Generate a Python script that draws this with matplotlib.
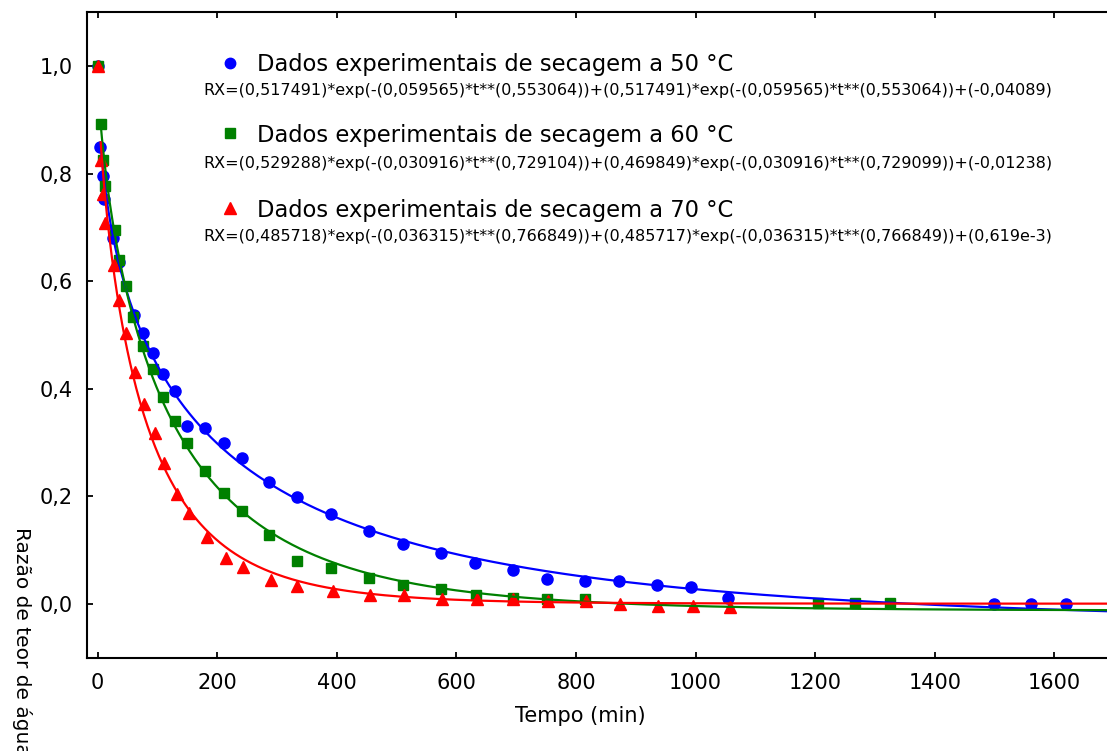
import numpy as np
import matplotlib
matplotlib.use("Agg")
import matplotlib.pyplot as plt
from matplotlib.ticker import FuncFormatter

# Data
t50 = [0, 4, 9, 10, 26, 35, 60, 76, 93, 110, 129, 150, 179, 212, 241, 287, 333,
       391, 454, 511, 574, 631, 694, 752, 815, 872, 935, 992, 1054, 1499, 1561, 1619]
rx50 = [1.0, 0.849, 0.796, 0.752, 0.680, 0.635, 0.538, 0.504, 0.467, 0.428, 0.395,
        0.331, 0.327, 0.300, 0.271, 0.227, 0.199, 0.167, 0.136, 0.112, 0.095, 0.076,
        0.063, 0.047, 0.043, 0.043, 0.035, 0.031, 0.012, 0.0, 0.0, 0.0]

t60 = [0, 5, 9, 13, 29, 35, 47, 59, 75, 93, 110, 130, 150, 179, 212, 241, 287, 333,
       391, 454, 511, 574, 632, 694, 752, 815, 1204, 1266, 1325]
rx60 = [1.0, 0.892, 0.825, 0.777, 0.696, 0.639, 0.592, 0.533, 0.480, 0.436, 0.384,
        0.340, 0.300, 0.248, 0.207, 0.172, 0.128, 0.079, 0.067, 0.048, 0.035, 0.027,
        0.016, 0.012, 0.009, 0.009, 0.001, 0.001, 0.001]

t70 = [0, 5, 9, 13, 28, 36, 48, 62, 78, 95, 111, 132, 153, 182, 214, 243, 289, 334,
       393, 455, 513, 575, 634, 695, 753, 816, 873, 937, 995, 1057]
rx70 = [1.0, 0.825, 0.763, 0.709, 0.630, 0.565, 0.504, 0.432, 0.372, 0.317, 0.262,
        0.204, 0.169, 0.125, 0.085, 0.068, 0.045, 0.033, 0.025, 0.016, 0.016, 0.009,
        0.009, 0.009, 0.006, 0.006, 0.000, -0.004, -0.004, -0.005]

# Fitted model parameters printed on the chart
a_fit  = [0.517491, 0.529288, 0.485718]
k1_fit = [0.059565, 0.030916, 0.036315]
n1_fit = [0.553064, 0.729104, 0.766849]
b_fit  = [0.517491, 0.469849, 0.485717]
k2_fit = [0.059565, 0.030916, 0.036315]
n2_fit = [0.553064, 0.729099, 0.766849]
c_fit  = [-0.04089, -0.01238, 0.000619]

labels = ['Dados experimentais de secagem a 50 °C',
          'Dados experimentais de secagem a 60 °C',
          'Dados experimentais de secagem a 70 °C']
eq_labels = [
    'RX=(0,517491)*exp(-(0,059565)*t**(0,553064))+(0,517491)*exp(-(0,059565)*t**(0,553064))+(-0,04089)',
    'RX=(0,529288)*exp(-(0,030916)*t**(0,729104))+(0,469849)*exp(-(0,030916)*t**(0,729099))+(-0,01238)',
    'RX=(0,485718)*exp(-(0,036315)*t**(0,766849))+(0,485717)*exp(-(0,036315)*t**(0,766849))+(0,619e-3)',
]

colors  = ['#0000ff', '#008000', '#ff0000']
markers = ['o', 's', '^']
msizes  = [8, 7.5, 8.5]

W, H = 1107, 751
fig = plt.figure(figsize=(W / 100, H / 100), dpi=100)
ax = fig.add_axes([87 / W, 1 - 658 / H, 1 - 87 / W, (658 - 12) / H])

series = [(t50, rx50), (t60, rx60), (t70, rx70)]
for (t, rx), c, m, ms in zip(series, colors, markers, msizes):
    ax.plot(t, rx, linestyle='none', marker=m, ms=ms, color=c, mec=c, zorder=2)

# fitted curves
tt = np.linspace(5, 1700, 800)
for i, c in enumerate(colors):
    rx_fit = (a_fit[i] * np.exp(-k1_fit[i] * tt ** n1_fit[i])
              + b_fit[i] * np.exp(-k2_fit[i] * tt ** n2_fit[i]) + c_fit[i])
    ax.plot(tt, rx_fit, color=c, lw=1.6, zorder=3)

ax.set_xlim(-17.9, 1688)
ax.set_ylim(-0.1004, 1.1004)
ax.set_xticks(np.arange(0, 1601, 200))
ax.set_yticks(np.arange(0, 1.01, 0.2))
ax.yaxis.set_major_formatter(FuncFormatter(lambda v, p: f'{v:.1f}'.replace('.', ',')))
ax.tick_params(direction='in', length=4, width=1.3, top=True, right=False,
               labelsize=15)
ax.tick_params(axis='x', pad=11)
ax.tick_params(axis='y', pad=10)
ax.spines['right'].set_visible(False)
for s in ['left', 'bottom', 'top']:
    ax.spines[s].set_linewidth(1.5)

# legend block: marker, label and fitted equation for each series
mk_y = [63, 133, 208]
lab_base = [70.5, 142.3, 216.7]
eq_base = [95, 168.3, 240.5]
for i in range(3):
    fig.add_artist(plt.Line2D([230 / W], [1 - mk_y[i] / H], marker=markers[i],
                              ms=msizes[i] - 0.5, color=colors[i], linestyle='none'))
    fig.text(257 / W, 1 - lab_base[i] / H, labels[i], fontsize=16.3,
             ha='left', va='baseline')
    fig.text(203 / W, 1 - eq_base[i] / H, eq_labels[i], fontsize=11.55,
             ha='left', va='baseline')

fig.text(580 / W, 1 - 722 / H, 'Tempo (min)', fontsize=15, ha='center', va='baseline')
fig.text(22 / W, 1 - 527 / H, 'Razão de teor de água', fontsize=14.5,
         rotation=-90, ha='center', va='top')

fig.savefig('out.png', dpi=100)
